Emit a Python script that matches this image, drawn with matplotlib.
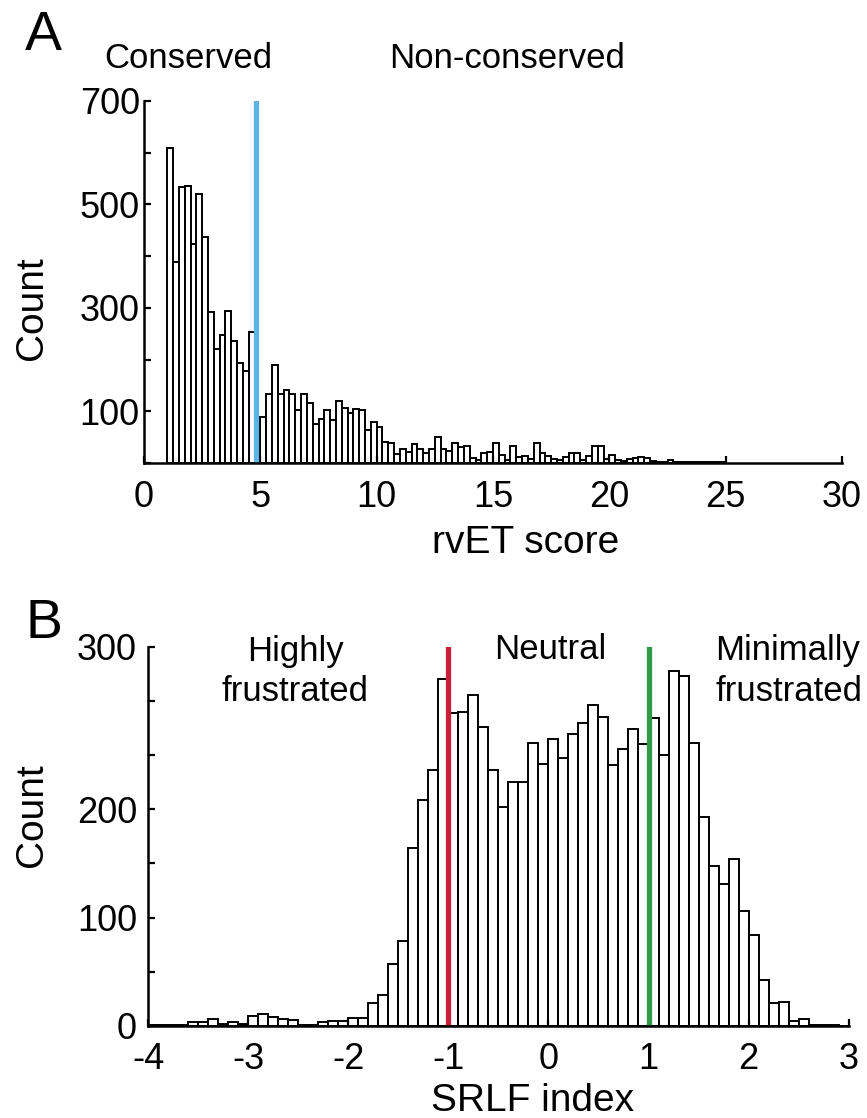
import numpy as np
import matplotlib
matplotlib.use("Agg")
import matplotlib.pyplot as plt

plt.rcParams['font.family'] = ['Liberation Sans', 'DejaVu Sans']

# panel A: rvET score histogram, bins of 0.25 starting at 1.0
rvet_start = 1.0
rvet_width = 0.25
rvet_counts = [
    610, 388, 534, 536, 424, 521, 437, 292, 221, 248, 294, 235, 194, 177, 254,
    88, 88,
    133, 190, 134, 142, 134, 102, 134, 116, 75, 86, 103, 84, 120, 106, 97, 105,
    102, 64, 80, 70, 41, 38, 17,
    28, 22, 36, 28, 20, 28, 50, 28, 24, 38, 30, 33, 10, 5, 20, 22, 38, 15, 6,
    32, 12, 14, 7, 39, 20, 14, 8, 6, 12, 19, 20, 6, 14, 32,
    33, 8, 15, 5, 3, 7, 9, 12, 10, 3, 2, 2, 5, 2, 1, 1, 1, 1, 1, 1, 1, 1,
]
rvet_cut = 4.82

# panel B: SRLF index histogram, bins of 0.1 starting at -4.0
srlf_start = -4.0
srlf_width = 0.1
srlf_counts = [
    1, 1, 1, 1, 3, 3, 6, 2, 3, 2,
    9, 11, 8, 6, 5, 1, 1, 3, 4, 4,
    7, 7, 21, 28, 57, 78, 164, 209, 236, 320,
    289, 290, 306, 276, 236, 202, 225, 225, 261, 242,
    265, 247, 270, 280, 296, 285, 241, 256, 274, 260,
    284, 250, 328, 323, 261, 193, 148, 131, 154, 106,
    84, 42, 21, 22, 4, 6, 1, 1, 1, 0,
]
srlf_cuts = [-1.0, 1.0]
srlf_cut_colors = ['#C8203A', '#2E9A48']

W, H = 867, 1118
fig = plt.figure(figsize=(W / 100, H / 100), dpi=100)


def px(x, y):
    return x / W, 1 - y / H


def style_axes(ax):
    for s in ['top', 'right']:
        ax.spines[s].set_visible(False)
    for s in ['left', 'bottom']:
        ax.spines[s].set_linewidth(1.8)
    ax.tick_params(direction='in', length=5, width=1.6, labelsize=26)


# ---- panel A
axA = fig.add_axes([144 / W, 1 - 463 / H, 698 / W, 362 / H])
edgesA = rvet_start + rvet_width * np.arange(len(rvet_counts))
axA.bar(edgesA, rvet_counts, width=rvet_width, align='edge',
        color='white', edgecolor='black', linewidth=1.4)
axA.axvline(rvet_cut, color='#5AB4E5', linewidth=3.8)
axA.set_xlim(0, 30)
axA.set_ylim(0, 700)
axA.set_xticks(np.arange(0, 31, 5))
axA.set_yticks(np.arange(0, 701, 100))
axA.set_yticklabels(['', '100', '', '300', '', '500', '', '700'])
style_axes(axA)
axA.tick_params(axis='x', pad=12)
axA.tick_params(axis='y', pad=3)

fig.text(*px(25, 50), 'A', fontsize=40, ha='left', va='baseline')
fig.text(*px(188, 68), 'Conserved', fontsize=25, ha='center', va='baseline')
fig.text(*px(507, 68), 'Non-conserved', fontsize=25, ha='center', va='baseline')
fig.text(*px(32, 308), 'Count', fontsize=28, rotation=90, ha='center', va='center')
fig.text(*px(526, 553), 'rvET score', fontsize=28, ha='center', va='baseline')

# ---- panel B
axB = fig.add_axes([148 / W, 1 - 1025.7 / H, 700.7 / W, 378.7 / H])
edgesB = srlf_start + srlf_width * np.arange(len(srlf_counts))
axB.bar(edgesB, srlf_counts, width=srlf_width, align='edge',
        color='white', edgecolor='black', linewidth=1.4)
for xc, cc in zip(srlf_cuts, srlf_cut_colors):
    axB.axvline(xc, color=cc, linewidth=3.8)
axB.set_xlim(-4, 3)
axB.set_ylim(0, 350)
axB.set_xticks(np.arange(-4, 4, 1))
axB.set_xticklabels(['-4', '-3', '-2', '-1', '0', '1', '2', '3'])
axB.set_yticks(np.arange(0, 351, 50))
axB.set_yticklabels(['0', '', '100', '', '200', '', '', '300'])
style_axes(axB)
axB.tick_params(axis='x', pad=12)
axB.tick_params(axis='y', pad=8)

fig.text(*px(25, 638), 'B', fontsize=40, ha='left', va='baseline')
fig.text(*px(295, 661), 'Highly', fontsize=25, ha='center', va='baseline')
fig.text(*px(295, 701), 'frustrated', fontsize=25, ha='center', va='baseline')
fig.text(*px(550, 659), 'Neutral', fontsize=25, ha='center', va='baseline')
fig.text(*px(715, 660), 'Minimally', fontsize=25, ha='left', va='baseline')
fig.text(*px(715, 701), 'frustrated', fontsize=25, ha='left', va='baseline')
fig.text(*px(32, 815), 'Count', fontsize=28, rotation=90, ha='center', va='center')
fig.text(*px(533, 1111), 'SRLF index', fontsize=28, ha='center', va='baseline')

fig.savefig('out.png', dpi=100)
